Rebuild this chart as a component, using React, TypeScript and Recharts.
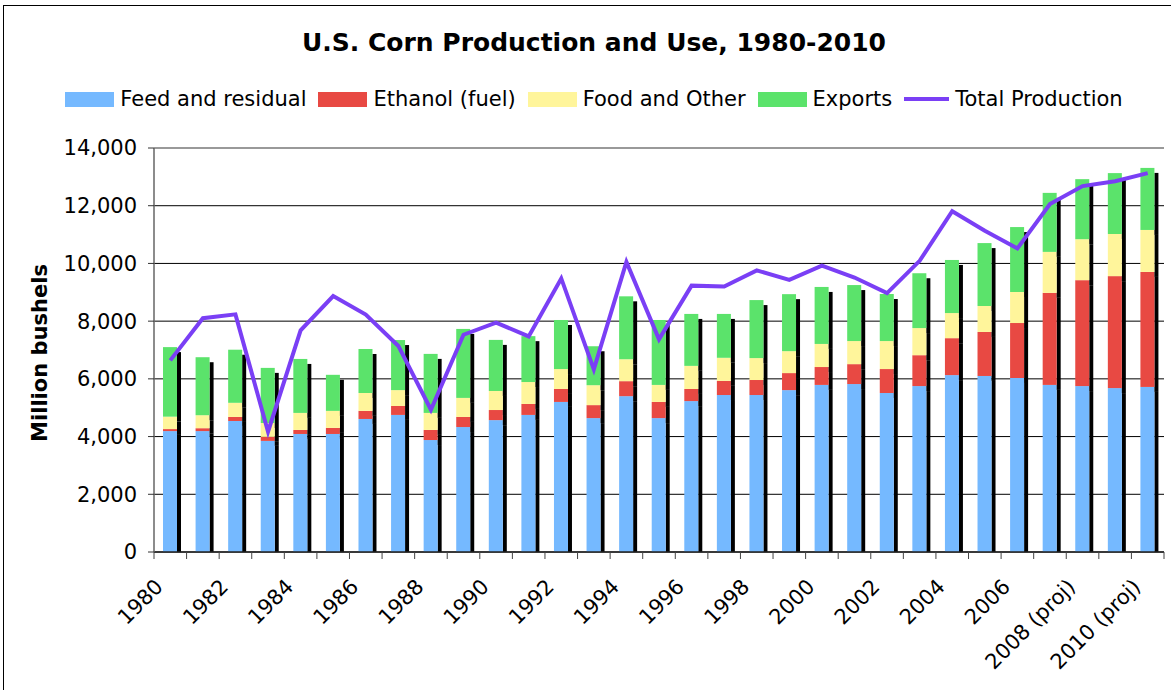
import {
  ComposedChart,
  Bar,
  Line,
  XAxis,
  YAxis,
  CartesianGrid,
  ReferenceLine,
} from "recharts";

const YEARS = [
  "1980", "1981", "1982", "1983", "1984", "1985", "1986", "1987", "1988", "1989",
  "1990", "1991", "1992", "1993", "1994", "1995", "1996", "1997", "1998", "1999",
  "2000", "2001", "2002", "2003", "2004", "2005", "2006", "2007", "2008 (proj)",
  "2009", "2010 (proj)",
];

// million bushels
const FEED = [
  4190, 4190, 4540, 3850, 4090, 4090, 4610, 4750, 3880, 4330,
  4570, 4750, 5200, 4640, 5400, 4640, 5230, 5440, 5440, 5610,
  5790, 5820, 5510, 5750, 6130, 6100, 6030, 5790, 5750, 5680, 5720,
];
const ETHANOL = [
  70, 100, 140, 140, 140, 210, 280, 310, 350, 350,
  350, 380, 450, 450, 520, 560, 420, 490, 520, 590,
  620, 690, 830, 1070, 1280, 1525, 1905, 3190, 3670, 3880, 3985,
];
const FOOD = [
  430, 450, 490, 480, 590, 590, 620, 550, 590, 660,
  660, 760, 690, 690, 760, 590, 800, 800, 760, 760,
  800, 800, 970, 940, 870, 900, 1075, 1420, 1420, 1460, 1455,
];
const EXPORTS = [
  2410, 2010, 1840, 1910, 1870, 1250, 1525, 1735, 2045, 2390,
  1770, 1590, 1700, 1350, 2180, 2250, 1800, 1520, 2010, 1975,
  1975, 1940, 1630, 1900, 1840, 2180, 2250, 2045, 2080, 2110, 2150,
];
const PRODUCTION = [
  6640, 8100, 8235, 4170, 7680, 8870, 8230, 7140, 4930, 7530,
  7950, 7470, 9480, 6330, 10050, 7370, 9230, 9200, 9760, 9430,
  9920, 9510, 8970, 10090, 11810, 11130, 10520, 12060, 12680, 12850, 13130,
];
const Y_TICKS = [0, 2000, 4000, 6000, 8000, 10000, 12000, 14000];

const SERIES = [
  { key: "feed", name: "Feed and residual", color: "#75B9FF" },
  { key: "ethanol", name: "Ethanol (fuel)", color: "#E84943" },
  { key: "food", name: "Food and Other", color: "#FFF59B" },
  { key: "exports", name: "Exports", color: "#5BE36B" },
];
const LINE_COLOR = "#7A3FF5";
const FONT = '"DejaVu Sans", Verdana, sans-serif';

const W = 1171;
const H = 690;
const PLOT_LEFT = 154;
const PLOT_RIGHT = 7;
const BAND = (W - PLOT_LEFT - PLOT_RIGHT) / YEARS.length;

const data = YEARS.map((year, i) => ({
  year,
  feed: FEED[i],
  ethanol: ETHANOL[i],
  food: FOOD[i],
  exports: EXPORTS[i],
  production: PRODUCTION[i],
}));

// bar with the black drop shadow on its right
const shadowBar = (isBase: boolean) => (props: any) => {
  const { x, y, width, height, fill } = props;
  if (!height || height <= 0) return <g />;
  const dy = 5;
  const sh = isBase ? height - dy : height;
  return (
    <g>
      <rect x={x + width} y={y + dy} width={4} height={Math.max(0, sh)} fill="#000" />
      <rect x={x} y={y} width={width} height={height} fill={fill} />
    </g>
  );
};

const XTick = (props: any) => {
  const { x, y, index, payload } = props;
  const half = BAND / 2;
  const tx = x - 6;
  const ty = y + 36;
  return (
    <g>
      <line x1={x - half} x2={x - half} y1={y} y2={y + 7} stroke="#444" />
      {index === YEARS.length - 1 && (
        <line x1={x + half} x2={x + half} y1={y} y2={y + 7} stroke="#444" />
      )}
      {index % 2 === 0 && (
        <text
          x={tx}
          y={ty}
          transform={`rotate(-45 ${tx} ${ty})`}
          textAnchor="end"
          fontSize={21}
          fontFamily={FONT}
          fill="#000"
        >
          {payload.value}
        </text>
      )}
    </g>
  );
};

const YLabel = (props: any) => {
  const vb = props.viewBox || { x: 0, y: 148, height: 404 };
  const cx = vb.x + 40;
  const cy = vb.y + vb.height / 2 + 3;
  return (
    <text
      x={cx}
      y={cy}
      transform={`rotate(-90 ${cx} ${cy})`}
      textAnchor="middle"
      dominantBaseline="central"
      fontSize={21}
      fontWeight="bold"
      fontFamily={FONT}
      fill="#000"
    >
      Million bushels
    </text>
  );
};

const LegendRow = () => (
  <div
    style={{
      position: "absolute",
      top: 87,
      left: 0,
      width: 1188,
      display: "flex",
      justifyContent: "center",
      alignItems: "center",
      fontFamily: FONT,
      fontSize: 21,
      color: "#000",
      whiteSpace: "nowrap",
    }}
  >
    {SERIES.map((s) => (
      <div key={s.key} style={{ display: "flex", alignItems: "center", marginRight: 12 }}>
        <span style={{ display: "inline-block", width: 49, height: 15, background: s.color, marginRight: 6 }} />
        <span>{s.name}</span>
      </div>
    ))}
    <div style={{ display: "flex", alignItems: "center" }}>
      <span style={{ display: "inline-block", width: 45, height: 4, background: LINE_COLOR, marginRight: 6 }} />
      <span>Total Production</span>
    </div>
  </div>
);

const App = () => {
  return (
    <div
      style={{
        position: "absolute",
        left: 0,
        top: 0,
        width: W,
        height: H,
        overflow: "hidden",
        background: "#fff",
      }}
    >
      <div
        style={{
          position: "absolute",
          left: 3,
          top: 5,
          width: 1185,
          height: 720,
          border: "1px solid #000",
        }}
      />
      <div
        style={{
          position: "absolute",
          top: 28,
          left: 0,
          width: 1188,
          textAlign: "center",
          fontFamily: FONT,
          fontWeight: "bold",
          fontSize: 25,
          color: "#000",
        }}
      >
        U.S. Corn Production and Use, 1980-2010
      </div>
      <LegendRow />
      <div style={{ position: "absolute", left: 0, top: 0 }}>
        <ComposedChart
          width={W}
          height={H}
          data={data}
          margin={{ top: 148, right: PLOT_RIGHT, left: 0, bottom: 0 }}
        >
          <CartesianGrid vertical={false} stroke="#000" strokeWidth={1} />
          <ReferenceLine y={14000} stroke="#999" strokeWidth={2} />
          <XAxis
            dataKey="year"
            interval={0}
            height={138}
            tickSize={0}
            tickMargin={0}
            tickLine={false}
            axisLine={{ stroke: "#222", strokeWidth: 1.5 }}
            tick={<XTick />}
          />
          <YAxis
            width={PLOT_LEFT}
            domain={[0, 14000]}
            ticks={Y_TICKS}
            tickSize={6}
            tickMargin={11}
            tickLine={{ stroke: "#333" }}
            axisLine={{ stroke: "#666", strokeWidth: 1.5 }}
            tick={{ fontSize: 21, fontFamily: FONT, fill: "#000" }}
            tickFormatter={(v: number) => v.toLocaleString("en-US")}
            label={<YLabel />}
          />
          <YAxis
            yAxisId="frame"
            orientation="right"
            width={0}
            domain={[0, 14000]}
            tick={false}
            tickLine={false}
            axisLine={{ stroke: "#999", strokeWidth: 2 }}
          />
          {SERIES.map((s, i) => (
            <Bar
              key={s.key}
              dataKey={s.key}
              name={s.name}
              stackId="use"
              fill={s.color}
              barSize={14}
              shape={shadowBar(i === 0)}
              isAnimationActive={false}
            />
          ))}
          <Line
            type="linear"
            dataKey="production"
            name="Total Production"
            stroke={LINE_COLOR}
            strokeWidth={4}
            dot={false}
            activeDot={false}
            isAnimationActive={false}
          />
        </ComposedChart>
      </div>
    </div>
  );
};

export default App;
